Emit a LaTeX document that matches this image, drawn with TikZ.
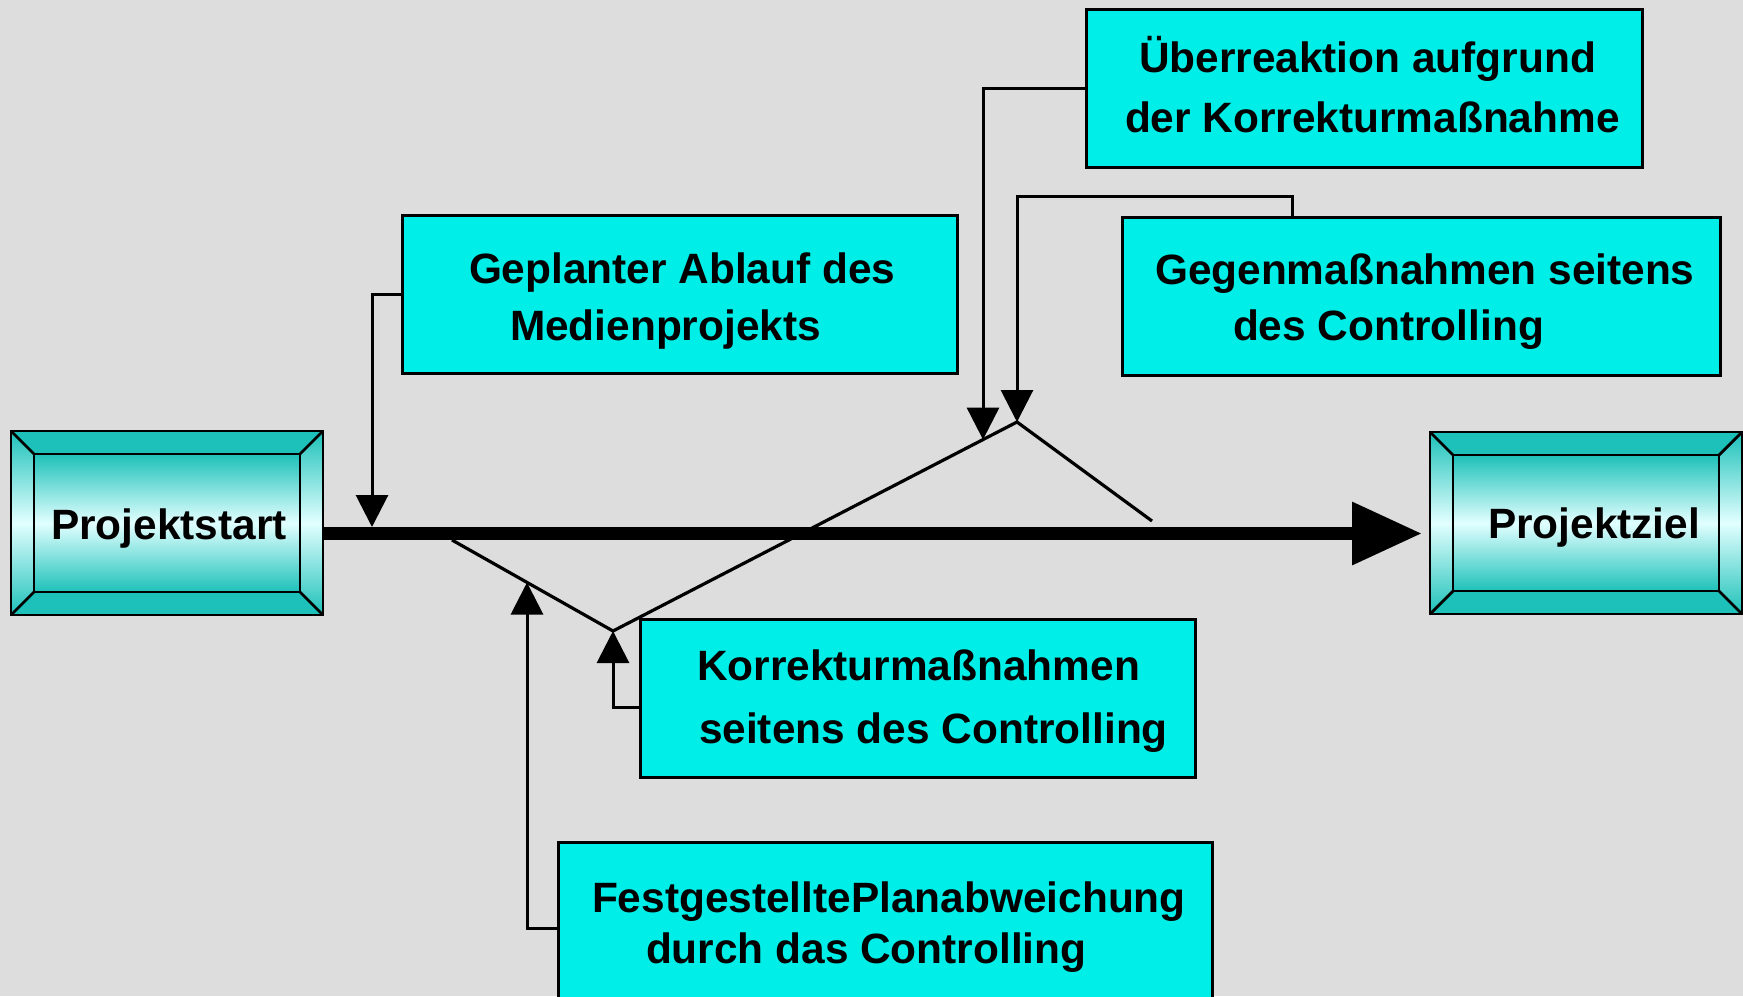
\documentclass[tikz,border=0pt]{standalone}
\usepackage{fontspec}
\setmainfont{Liberation Sans}
\usetikzlibrary{arrows.meta,calc}

\definecolor{bg}{HTML}{DDDDDD}
\definecolor{boxcyan}{HTML}{00EEE8}
\definecolor{bevteal}{HTML}{1DC1B9}
\definecolor{bevlight}{HTML}{E2FFFF}

\tikzset{
  lbl/.style={anchor=base west, inner sep=0pt, outer sep=0pt,
    font=\fontsize{42.4}{50}\selectfont\bfseries},
  infobox/.style={draw=black, line width=3pt, fill=boxcyan,
    inner sep=0pt, outer sep=0pt},
  bevelbox/.style={inner sep=0pt, outer sep=0pt,
    minimum width=312pt, minimum height=184pt},
  bevline/.style={draw=black, line width=2.8pt},
  conn/.style={draw=black, line width=3pt,
    -{Triangle[width=32pt,length=32pt]}},
  devline/.style={draw=black, line width=3.2pt},
  mainline/.style={draw=black, line width=13pt,
    -{Triangle[width=60pt,length=70pt]}},
}

% bevelled end box around a named node (bevel 23pt)
\newcommand\drawbevel[1]{%
  \shade[top color=bevteal, bottom color=bevteal, middle color=bevlight]
    (#1.north west) rectangle (#1.south east);
  \fill[bevteal] (#1.north west) -- (#1.north east)
    -- ($(#1.north east)+(-23,23)$) -- ($(#1.north west)+(23,23)$) -- cycle;
  \fill[bevteal] (#1.south west) -- (#1.south east)
    -- ($(#1.south east)+(-23,-23)$) -- ($(#1.south west)+(23,-23)$) -- cycle;
  \shade[top color=bevteal, bottom color=bevteal, middle color=bevlight]
    ($(#1.north west)+(23,23)$) rectangle ($(#1.south east)+(-23,-23)$);
  \draw[bevline] (#1.north west) rectangle (#1.south east);
  \draw[bevline] ($(#1.north west)+(23,23)$) rectangle ($(#1.south east)+(-23,-23)$);
  \draw[bevline] (#1.north west) -- ++(23,23);
  \draw[bevline] (#1.north east) -- ++(-23,23);
  \draw[bevline] (#1.south west) -- ++(23,-23);
  \draw[bevline] (#1.south east) -- ++(-23,-23);
}

\begin{document}
\begin{tikzpicture}[x=1pt, y=-1pt]
  \useasboundingbox (0,0) rectangle (1743,996);
  \fill[bg] (0,0) rectangle (1743,996);

  % start and goal
  \path node[bevelbox] (start) at (167,523) {};
  \drawbevel{start}
  \node[lbl] (startlbl) at (51,539) {Projektstart};

  \path node[bevelbox, minimum height=182pt] (ziel) at (1586,523) {};
  \drawbevel{ziel}
  \node[lbl] (ziellbl) at (1488,538) {Projektziel};

  % deviation course
  \coordinate (dev0) at (452,540);
  \coordinate (kinkA) at (613,631);
  \coordinate (kinkB) at (1017,422);
  \coordinate (dev3) at (1152,521);
  \draw[devline] (dev0) -- (kinkA) -- (kinkB) -- (dev3);

  % planned course, running slightly below the box centres
  \draw[mainline, shorten >=8pt] ($(start.east)+(0,10.5)$) -- ($(ziel.west)+(0,10.5)$);

  % text boxes
  \node[infobox, minimum width=556pt, minimum height=158pt] (ueber) at (1364,88) {};
  \node[lbl] (ueberA) at (1139,72) {Überreaktion aufgrund};
  \node[lbl] (ueberB) at (1125,132) {der Korrekturmaßnahme};

  \node[infobox, minimum width=555pt, minimum height=158pt] (plan) at (679.5,294) {};
  \node[lbl] (planA) at (469,283) {Geplanter Ablauf des};
  \node[lbl] (planB) at (510,340) {Medienprojekts};

  \node[infobox, minimum width=598pt, minimum height=158pt] (gegen) at (1421,296) {};
  \node[lbl] (gegenA) at (1155,284) {Gegenmaßnahmen seitens};
  \node[lbl] (gegenB) at (1233,340) {des Controlling};

  \node[infobox, minimum width=555pt, minimum height=158pt] (korr) at (917.5,698) {};
  \node[lbl] (korrA) at (697,680) {Korrekturmaßnahmen};
  \node[lbl] (korrB) at (699,743) {seitens des Controlling};

  \node[infobox, minimum width=654pt, minimum height=172pt] (fest) at (885,928) {};
  \node[lbl] (festA) at (592,912) {FestgestelltePlanabweichung};
  \node[lbl] (festB) at (646,963) {durch das Controlling};

  % connectors
  \coordinate (planIn) at (372,527);
  \draw[conn] (plan.west) -| (planIn);

  \coordinate (festIn) at (527,582.5);
  \draw[conn] (fest.west) -| (festIn);

  \draw[conn] ($(korr.west)+(0,9)$) -| (kinkA);

  \coordinate (ueberIn) at (983,439.6);
  \draw[conn] (ueber.west) -| (ueberIn);

  \coordinate (gegenOut) at ($(gegen.north west)+(170,0)$);
  \draw[conn] (gegenOut) -- ++(0,-21) -| (kinkB);
\end{tikzpicture}
\end{document}
